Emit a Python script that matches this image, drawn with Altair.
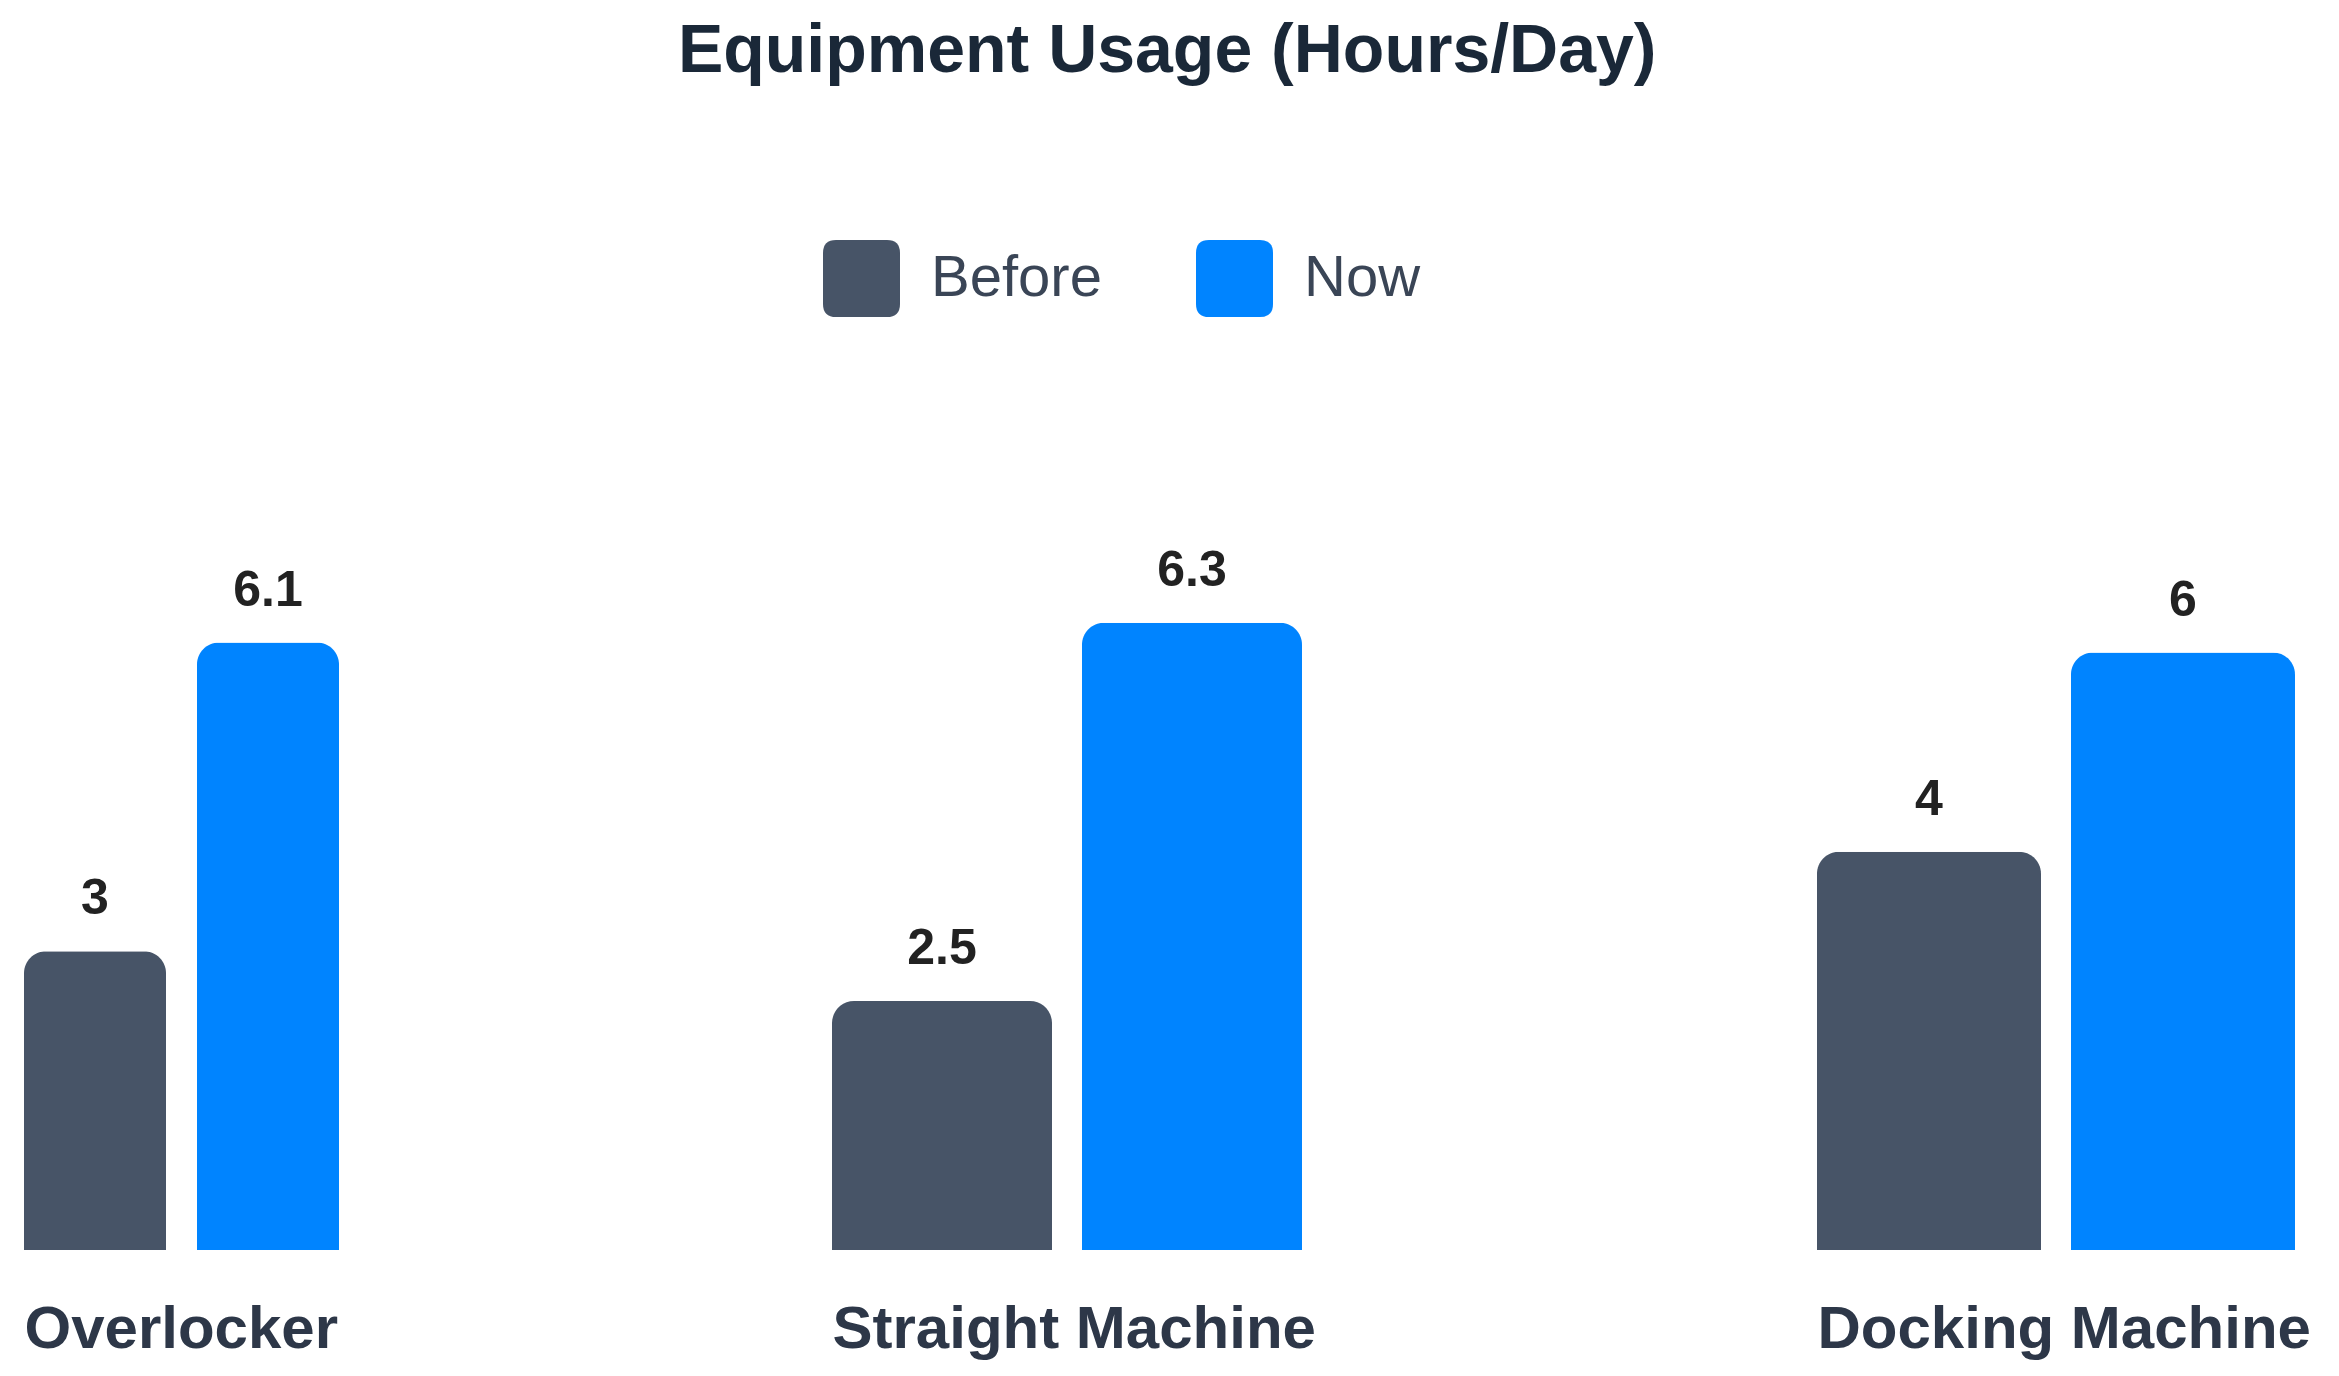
import altair as alt
import pandas as pd

categories = ["Overlocker", "Straight Machine", "Docking Machine"]
series = ["Before", "Now"]
before_values = [3, 2.5, 4]
now_values = [6.1, 6.3, 6]
colors = ["#475467", "#0084ff"]

rows = []
for i, c in enumerate(categories):
    rows.append({"category": c, "series": "Before", "value": before_values[i]})
    rows.append({"category": c, "series": "Now", "value": now_values[i]})
df = pd.DataFrame(rows)

FONT = "Liberation Sans"
panel_widths = [315, 470, 500]
panel_ranges = [[0, 315], [0, 470], [22, 500]]
panel_pad = [0.179, 0.12, 0.118]
H = 697
ROUNDED = "M-0.66,-1H0.66Q1,-1 1,-0.66V0.66Q1,1 0.66,1H-0.66Q-1,1 -1,0.66V-0.66Q-1,-1 -0.66,-1Z"

legend = alt.Legend(
    title=None, orient="none", legendX=799, legendY=-313, direction="horizontal",
    symbolType=ROUNDED, symbolSize=5929, symbolStrokeWidth=0, symbolOpacity=1,
    labelFont=FONT, labelFontSize=58, labelColor="#3a4556", labelOffset=31,
    labelLimit=400, columnPadding=94, padding=0,
)


def panel(i):
    cat = categories[i]
    base = alt.Chart(df).transform_filter(alt.datum.category == cat).encode(
        x=alt.X(
            "series:N", sort=series,
            scale=alt.Scale(domain=series, paddingInner=panel_pad[i], paddingOuter=0,
                            range=panel_ranges[i]),
            axis=alt.Axis(
                title=cat, labels=False, ticks=False, domain=False, grid=False,
                titleFont=FONT, titleFontSize=60, titleFontWeight="bold",
                titleColor="#2d3748", titleAnchor="start", titleAlign="left",
                titleX=panel_ranges[i][0], titlePadding=50,
            ),
        ),
        y=alt.Y("value:Q", scale=alt.Scale(domain=[0, 7], nice=False, zero=True), axis=None),
    )
    bars = base.mark_bar(cornerRadiusTopLeft=22, cornerRadiusTopRight=22).encode(
        color=alt.Color("series:N", sort=series,
                        scale=alt.Scale(domain=series, range=colors), legend=legend)
    )
    labels = base.mark_text(
        dy=-37, baseline="alphabetic", font=FONT, fontSize=50, fontWeight="bold", color="#222222"
    ).encode(text=alt.Text("value:Q"))
    return alt.layer(bars, labels).properties(width=panel_widths[i], height=H)


chart = alt.hconcat(panel(0), panel(1), panel(2), spacing=493, bounds="flush").properties(
    title=alt.TitleParams(
        "Equipment Usage (Hours/Day)", fontSize=68, font=FONT, fontWeight="bold",
        color="#1a2838", anchor="middle", offset=154,
    ),
    padding={"left": 16, "top": 10, "right": 10, "bottom": 5},
).configure_view(stroke=None)

chart.save("out.html", embed_options={"renderer": "svg", "actions": False})
